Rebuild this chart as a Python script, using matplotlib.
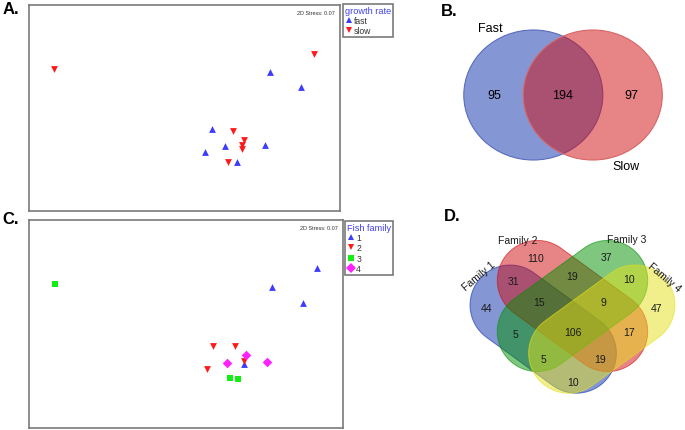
import matplotlib.pyplot as plt
import numpy as np
from matplotlib.patches import Ellipse, Polygon
from matplotlib.lines import Line2D

W, H = 685, 431

# ---------------- NMDS scores (box scaled 0-100) ---------------- #
fast_x = [77.5, 87.5, 58.8, 63.1, 56.7, 76.0, 66.8]
fast_y = [67.5, 60.0, 39.7, 31.5, 28.6, 31.8, 23.6]
slow_x = [8.3, 91.7, 65.7, 69.2, 68.6, 68.4, 64.1]
slow_y = [68.8, 76.0, 38.9, 34.4, 32.0, 30.0, 23.6]

fam1_x = [91.6, 77.3, 87.4, 68.4]
fam1_y = [76.8, 67.6, 60.2, 30.8]
fam2_x = [58.8, 65.7, 68.6, 56.7]
fam2_y = [39.6, 39.6, 32.2, 28.2]
fam3_x = [8.4, 64.1, 66.7]
fam3_y = [69.2, 24.0, 23.6]
fam4_x = [69.1, 63.0, 75.8]
fam4_y = [35.1, 31.3, 31.6]

stress = 0.07

# ---------------- Venn counts ---------------- #
venn2_names = ["Fast", "Slow"]
venn2_counts = [95, 194, 97]  # fast only, shared, slow only

venn4_names = ["Family 1", "Family 2", "Family 3", "Family 4"]
venn4_regions = ["2", "3", "12", "23", "34", "1", "123", "234",
                 "4", "13", "1234", "24", "134", "124", "14"]
venn4_counts = [110, 37, 31, 19, 10, 44, 15, 9, 47, 5, 106, 17, 5, 19, 10]

BLUE = "#3c3cff"
RED = "#ff1a1a"
GREEN = "#11ee11"
MAGENTA = "#ff22ff"
GREY = "#7a7a7a"
TXT = ["Liberation Sans", "DejaVu Sans"]


def px_box(x0, y0, x1, y1):
    return [x0 / W, 1 - y1 / H, (x1 - x0) / W, (y1 - y0) / H]


def stadium(cx, cy, half_len, r, ang):
    # capsule outline in pixel coords (y down)
    a = np.radians(ang)
    d = np.array([np.cos(a), np.sin(a)])
    c1 = np.array([cx, cy]) + half_len * d
    c2 = np.array([cx, cy]) - half_len * d
    t1 = np.linspace(a - np.pi / 2, a + np.pi / 2, 40)
    t2 = np.linspace(a + np.pi / 2, a + 3 * np.pi / 2, 40)
    arc1 = np.column_stack([c1[0] + r * np.cos(t1), c1[1] + r * np.sin(t1)])
    arc2 = np.column_stack([c2[0] + r * np.cos(t2), c2[1] + r * np.sin(t2)])
    return np.vstack([arc1, arc2])


def nmds_axes(box, legend_xy, title, series):
    ax = fig.add_axes(px_box(*box))
    ax.set_xlim(0, 100)
    ax.set_ylim(0, 100)
    ax.set_xticks([])
    ax.set_yticks([])
    for s in ax.spines.values():
        s.set_color(GREY)
        s.set_linewidth(1.2)
    handles = []
    for xs, ys, m, c, lab in series:
        ax.scatter(xs, ys, marker=m, s=24, color=c, linewidths=0, zorder=3)
        handles.append(Line2D([], [], marker=m, color=c, linestyle="",
                              markersize=5, markeredgewidth=0, label=lab))
    ax.text(0.985, 0.975, f"2D Stress: {stress:.2f}", transform=ax.transAxes,
            ha="right", va="top", fontsize=4, color="#333333", family=TXT)
    leg = fig.legend(handles=handles, title=title, loc="upper left",
                     bbox_to_anchor=(legend_xy[0] / W, 1 - legend_xy[1] / H),
                     title_fontsize=6.6, frameon=True, fancybox=False,
                     edgecolor=GREY, framealpha=1, borderpad=0.2, labelspacing=0.15,
                     handletextpad=0.1, handlelength=1.0, borderaxespad=0,
                     alignment="left", prop={"family": TXT, "size": 6.2})
    leg.get_title().set_color("#4040ee")
    leg.get_title().set_family(TXT)
    leg.get_frame().set_linewidth(1.2)
    for t in leg.get_texts():
        t.set_color("#333333")
    return ax


fig = plt.figure(figsize=(6.85, 4.31), dpi=100)

# ---------------- A: NMDS by growth rate ---------------- #
nmds_axes((28.5, 5.5, 340, 212), (343, 5), "growth rate",
          [(fast_x, fast_y, "^", BLUE, "fast"),
           (slow_x, slow_y, "v", RED, "slow")])

# ---------------- C: NMDS by fish family ---------------- #
nmds_axes((28.5, 221, 343, 429), (345, 222), "Fish family",
          [(fam1_x, fam1_y, "^", BLUE, "1"),
           (fam2_x, fam2_y, "v", RED, "2"),
           (fam3_x, fam3_y, "s", GREEN, "3"),
           (fam4_x, fam4_y, "D", MAGENTA, "4")])

# ---------------- overlay for B, D and panel letters ---------------- #
ov = fig.add_axes([0, 0, 1, 1])
ov.set_xlim(0, W)
ov.set_ylim(H, 0)
ov.axis("off")
ov.patch.set_alpha(0)

for lab, x, y in [("A.", 11, 10), ("B.", 449, 11), ("C.", 11, 220), ("D.", 452, 217)]:
    ov.text(x, y, lab, fontsize=12, fontweight="bold", ha="center", va="center",
            family=TXT)

# B: two-set Venn
for (cx, cy), face, edge in [((533.3, 96), "#0b2fa9", "#5a6cc0"),
                             ((592.8, 96), "#d10b0f", "#d86565")]:
    ov.add_patch(Ellipse((cx, cy), 139, 130, facecolor=face, alpha=0.5,
                         edgecolor="none"))
    ov.add_patch(Ellipse((cx, cy), 139, 130, facecolor="none",
                         edgecolor=edge, lw=0.8))
ov.text(490, 29, venn2_names[0], fontsize=9, ha="center", va="center", family=TXT)
ov.text(626, 167, venn2_names[1], fontsize=9, ha="center", va="center", family=TXT)
for val, x in zip(venn2_counts, [494.3, 562.3, 631]):
    ov.text(x, 96, str(val), fontsize=9, ha="center", va="center", family=TXT)

# D: four-set Venn made of rounded capsules (y axis points down)
shapes = [((543.2, 330.1), 41, 36, "#0b2fa9"),
          ((572.5, 307), 43.5, 36, "#d10b0f"),
          ((572.5, 307), 43.5, 144, "#019101"),
          ((601.8, 330.1), 41, 144, "#e5e119")]
for (cx, cy), hl, ang, col in shapes:
    pts = stadium(cx, cy, hl, 40, ang)
    ov.add_patch(Polygon(pts, closed=True, facecolor=col, alpha=0.5, edgecolor="none"))
    ov.add_patch(Polygon(pts, closed=True, facecolor="none", edgecolor=col,
                         alpha=0.6, lw=0.7))

region_xy = {"2": (536, 259), "3": (606, 258), "12": (513, 282), "23": (572, 277),
             "34": (629, 280), "1": (487, 309), "123": (539, 303), "234": (603, 303),
             "4": (657, 309), "13": (515, 335), "1234": (573, 333), "24": (629, 333),
             "134": (543, 360), "124": (600, 360), "14": (573, 383)}
for reg, val in zip(venn4_regions, venn4_counts):
    x, y = region_xy[reg]
    ov.text(x, y, str(val), fontsize=7.5, ha="center", va="center",
            color="#1a1a1a", family=TXT)

name_xy = [(479, 276, 40), (518, 241, 0), (627, 240, 0), (664, 278, -40)]
for name, (x, y, rot) in zip(venn4_names, name_xy):
    ov.text(x, y, name, fontsize=7.5, ha="center", va="center", rotation=rot,
            color="#1a1a1a", family=TXT)

fig.savefig("out.png", dpi=100)
